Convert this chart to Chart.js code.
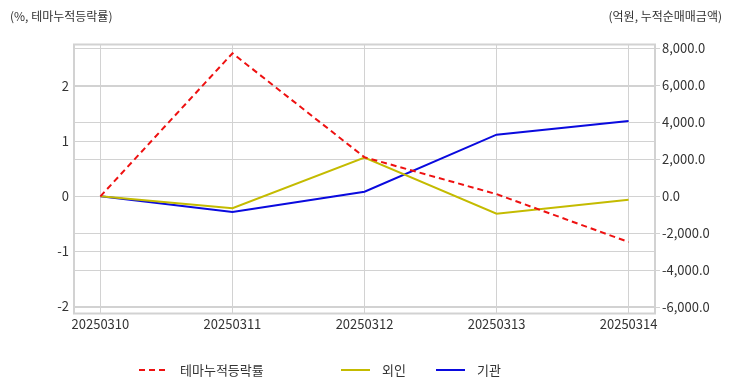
<!DOCTYPE html>
<html><head><meta charset="utf-8">
<script src="https://cdn.jsdelivr.net/npm/chart.js@4/dist/chart.umd.min.js"></script>
<style>html,body{margin:0;padding:0;background:#fff}#wrap{width:732px;height:392px;position:relative}</style>
</head><body><div id="wrap"><canvas id="c" width="732" height="392"></canvas></div>
<script>
const categories = ['20250310','20250311','20250312','20250313','20250314'];
const themeRate = [0, 2.6, 0.71, 0.04, -0.83];
const foreign = [0, -640, 2090, -935, -180];
const institution = [0, -850, 250, 3330, 4070];
const leftTicks = [-2, -1, 0, 1, 2];
const rightTicks = [-6000, -4000, -2000, 0, 2000, 4000, 6000, 8000];
const seriesNames = ['테마누적등락률', '외인', '기관'];
const leftTitle = '(%, 테마누적등락률)';
const rightTitle = '(억원, 누적순매매금액)';

const FONT = '"Noto Sans CJK KR", "Noto Sans", sans-serif';
const pts = arr => arr.map((v, i) => ({x: i, y: v}));

const frame = {
  id: 'frame',
  beforeDatasetsDraw(chart) {
    const {ctx, chartArea: a} = chart;
    ctx.save();
    ctx.strokeStyle = '#d2d2d2';
    ctx.lineWidth = 2;
    ctx.strokeRect(a.left, a.top - 0.5, a.right - a.left, a.bottom - a.top + 1);
    ctx.restore();
  },
  afterDraw(chart) {
    const {ctx} = chart;
    ctx.save();
    ctx.fillStyle = '#333';
    ctx.font = '12px ' + FONT;
    ctx.textBaseline = 'middle';
    ctx.textAlign = 'left';
    ctx.fillText(leftTitle, 10, 16);
    ctx.textAlign = 'right';
    ctx.fillText(rightTitle, 722, 16);
    // legend
    const xs = [139, 341, 436];
    const y = 370;
    chart.data.datasets.forEach((ds, i) => {
      ctx.strokeStyle = ds.borderColor;
      ctx.lineWidth = 2;
      ctx.setLineDash(ds.borderDash || []);
      ctx.beginPath();
      ctx.moveTo(xs[i], y);
      ctx.lineTo(xs[i] + 29, y);
      ctx.stroke();
      ctx.setLineDash([]);
      ctx.fillStyle = '#333';
      ctx.font = '13px ' + FONT;
      ctx.textAlign = 'left';
      ctx.fillText(ds.label, xs[i] + 41, y);
    });
    ctx.restore();
  }
};

new Chart(document.getElementById('c'), {
  type: 'line',
  data: {
    datasets: [
      {label: seriesNames[0], data: pts(themeRate), yAxisID: 'yL', borderColor: '#ee1111', borderDash: [6, 4], borderWidth: 2, pointRadius: 0, tension: 0, fill: false},
      {label: seriesNames[1], data: pts(foreign), yAxisID: 'yR', borderColor: '#c4bb00', borderWidth: 2, pointRadius: 0, tension: 0, fill: false},
      {label: seriesNames[2], data: pts(institution), yAxisID: 'yR', borderColor: '#0a0ade', borderWidth: 2, pointRadius: 0, tension: 0, fill: false}
    ]
  },
  options: {
    responsive: false,
    animation: false,
    layout: {padding: {left: 0, right: 0, top: 45, bottom: 57}},
    plugins: {legend: {display: false}, tooltip: {enabled: false}, title: {display: false}},
    scales: {
      x: {
        type: 'linear', min: -0.2, max: 4.2,
        afterBuildTicks: s => { s.ticks = categories.map((c, i) => ({value: i})); },
        afterFit: s => { s.height = 22; },
        ticks: {callback: v => categories[v], color: '#333', font: {family: FONT, size: 13}, padding: 3, maxRotation: 0, autoSkip: false},
        grid: {color: '#d2d2d2', lineWidth: 1, drawTicks: false},
        border: {display: false}
      },
      yL: {
        position: 'left', min: -2.12, max: 2.75,
        afterBuildTicks: s => { s.ticks = leftTicks.map(v => ({value: v})); },
        afterFit: s => { s.width = 74; },
        ticks: {color: '#333', font: {family: FONT, size: 13}, padding: 5},
        grid: {color: '#d2d2d2', lineWidth: 1, drawTicks: false},
        border: {display: false}
      },
      yR: {
        position: 'right', min: -6303, max: 8176,
        afterBuildTicks: s => { s.ticks = rightTicks.map(v => ({value: v})); },
        afterFit: s => { s.width = 77; },
        ticks: {color: '#333', font: {family: FONT, size: 13}, padding: 2,
          callback: v => v.toLocaleString('en-US', {minimumFractionDigits: 1, maximumFractionDigits: 1})},
        grid: {color: '#d2d2d2', lineWidth: 1, drawTicks: true, tickLength: 5, drawOnChartArea: true},
        border: {display: false}
      }
    }
  },
  plugins: [frame]
});
</script></body></html>
